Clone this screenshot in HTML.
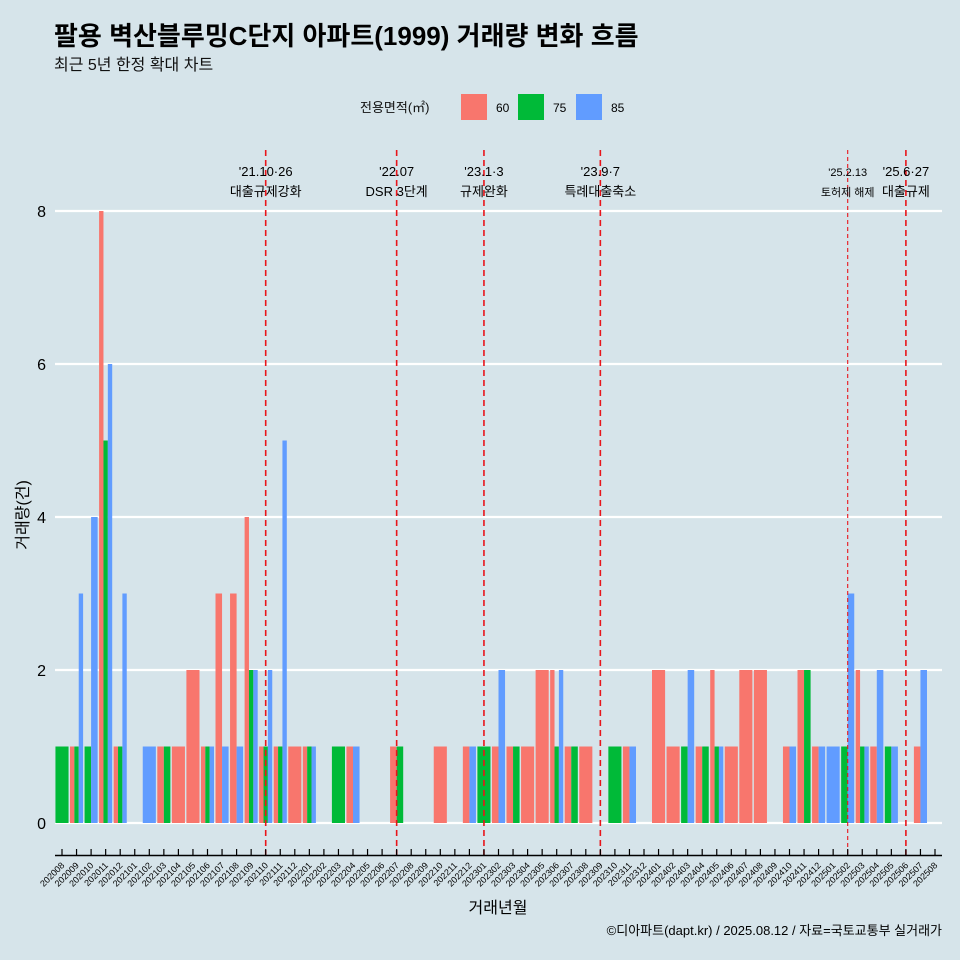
<!DOCTYPE html>
<html><head><meta charset="utf-8">
<style>
body{margin:0;background:#d6e4ea;}
svg{display:block;font-family:"Liberation Sans","Noto Sans CJK KR",sans-serif;}
</style></head>
<body>
<svg id="chart" width="960" height="960" viewBox="0 0 960 960">
<rect x="0" y="0" width="960" height="960" fill="#d6e4ea"/>
<text x="54" y="45" font-size="26" font-weight="bold" fill="#000">팔용 벽산블루밍C단지 아파트(1999) 거래량 변화 흐름</text>
<text x="54" y="70" font-size="16" fill="#111">최근 5년 한정 확대 차트</text>
<g>
<text x="360" y="112" font-size="13" fill="#111">전용면적(㎡)</text>
<rect x="461" y="94" width="26" height="26" fill="#F8766D"/>
<text x="496" y="112" font-size="12">60</text>
<rect x="518" y="94" width="26" height="26" fill="#00BA38"/>
<text x="553" y="112" font-size="12">75</text>
<rect x="576" y="94" width="26" height="26" fill="#619CFF"/>
<text x="611" y="112" font-size="12">85</text>
</g>
<g id="grid"></g><g id="bars"></g><g id="events"></g><g id="axes"></g>
<text x="28" y="515" font-size="16" text-anchor="middle" transform="rotate(-90 28 515)">거래량(건)</text>
<text x="498" y="913" font-size="16" text-anchor="middle">거래년월</text>
<text x="942" y="935" font-size="13" text-anchor="end">©디아파트(dapt.kr) / 2025.08.12 / 자료=국토교통부 실거래가</text>
</svg>
<script>
const months = [];
for (let y = 2020, m = 8; !(y === 2025 && m === 9); m++) { if (m > 12) { m = 1; y++; } if (y === 2025 && m === 9) break; months.push(y + String(m).padStart(2, '0')); }
const s60 = {"202009":1,"202011":8,"202012":1,"202103":1,"202104":1,"202105":2,"202106":1,"202107":3,"202108":3,"202109":4,"202110":1,"202111":1,"202112":1,"202201":1,"202204":1,"202207":1,"202210":1,"202212":1,"202302":1,"202303":1,"202304":1,"202305":2,"202306":2,"202307":1,"202308":1,"202311":1,"202401":2,"202402":1,"202404":1,"202405":2,"202406":1,"202407":2,"202408":2,"202410":1,"202411":2,"202412":1,"202503":2,"202504":1,"202507":1};
const s75 = {"202008":1,"202009":1,"202010":1,"202011":5,"202012":1,"202103":1,"202106":1,"202109":2,"202110":1,"202111":1,"202201":1,"202203":1,"202207":1,"202301":1,"202303":1,"202306":1,"202307":1,"202310":1,"202403":1,"202404":1,"202405":1,"202411":2,"202502":1,"202503":1,"202505":1};
const s85 = {"202009":3,"202010":4,"202011":6,"202012":3,"202102":1,"202106":1,"202107":1,"202108":1,"202109":2,"202110":2,"202111":5,"202201":1,"202204":1,"202212":1,"202302":2,"202306":2,"202311":1,"202403":2,"202405":1,"202410":1,"202412":1,"202501":1,"202502":3,"202503":1,"202504":2,"202505":1,"202507":2};
const seriesList = [s60, s75, s85];
const seriesNames = ["60", "75", "85"];
const colors = ["#F8766D", "#00BA38", "#619CFF"];
const yTicks = [0, 2, 4, 6, 8];
const events = [
 {m:"202110", d:"'21.10·26", t:"대출규제강화", dash:"6,4", w:1.6, fs:13},
 {m:"202207", d:"'22.07", t:"DSR 3단계", dash:"6,4", w:1.6, fs:13},
 {m:"202301", d:"'23.1·3", t:"규제완화", dash:"6,4", w:1.6, fs:13},
 {m:"202309", d:"'23.9·7", t:"특례대출축소", dash:"6,4", w:1.6, fs:13},
 {m:"202502", d:"'25.2.13", t:"토허제 해제", dash:"4,3", w:1.1, fs:11},
 {m:"202506", d:"'25.6·27", t:"대출규제", dash:"6,4", w:1.6, fs:13}
];
const NS = "http://www.w3.org/2000/svg";
const X0 = 62, STEP = 14.55, BW = 13.1, LEFT = 55, RIGHT = 942;
const Y0 = 823, PERU = 76.5;
const xs = i => X0 + i * STEP;
const ys = v => Y0 - v * PERU;
function mk(tag, attrs, parent) { const e = document.createElementNS(NS, tag); for (const k in attrs) e.setAttribute(k, attrs[k]); parent.appendChild(e); return e; }
const grid = document.getElementById('grid'), bars = document.getElementById('bars'), ev = document.getElementById('events'), ax = document.getElementById('axes');
yTicks.forEach(v => {
 const l = mk('line', {x1:LEFT, x2:RIGHT, y1:ys(v), y2:ys(v), stroke:'#fff', 'stroke-width':2.2}, grid);
 
 
 const t = mk('text', {x:46, y:ys(v)+6, 'font-size':16, 'text-anchor':'end'}, ax);
 t.textContent = v;
 
 
});
months.forEach((m, i) => {
 const present = [];
 seriesList.forEach((s, k) => { if (s[m]) present.push(k); });
 const w = BW / (present.length || 1);
 present.forEach((k, j) => {
  const v = seriesList[k][m];
  const r = mk('rect', {x:xs(i) - BW/2 + j*w, y:ys(v), width:w, height:Y0 - ys(v), fill:colors[k]}, bars);
  
  
 });
 const tk = mk('line', {x1:xs(i), x2:xs(i), y1:849, y2:856, stroke:'#000', 'stroke-width':1.2}, ax);
 
 
 const tl = mk('text', {x:xs(i)+3, y:866, 'font-size':9, 'text-anchor':'end', transform:'rotate(-45 ' + (xs(i)+3) + ' 866)'}, ax);
 tl.textContent = m;
 
 
});
const axl = mk('line', {x1:LEFT, x2:RIGHT, y1:855.5, y2:855.5, stroke:'#000', 'stroke-width':1.5}, ax);


events.forEach(e => {
 const i = months.indexOf(e.m);
 const x = xs(i);
 const l = mk('line', {x1:x, x2:x, y1:150, y2:855, stroke:'#e8151b', 'stroke-width':e.w, 'stroke-dasharray':e.dash}, ev);
 
 
 const t1 = mk('text', {x:x, y:176, 'font-size':e.fs, 'text-anchor':'middle'}, ev);
 t1.textContent = e.d;
 
 
 const t2 = mk('text', {x:x, y:196, 'font-size':e.fs, 'text-anchor':'middle'}, ev);
 t2.textContent = e.t;
 
 
});
</script>
</body></html>
